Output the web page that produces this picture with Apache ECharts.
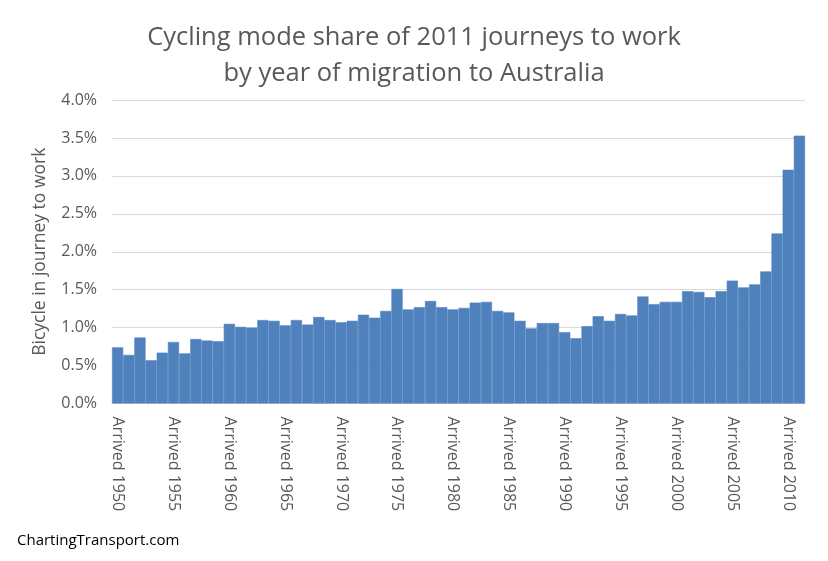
<!DOCTYPE html>
<html>
<head>
<meta charset="utf-8">
<script src="https://cdn.jsdelivr.net/npm/echarts@6/dist/echarts.min.js"></script>
<style>
html,body{margin:0;padding:0;background:#fff;}
#chart{width:828px;height:561px;}
</style>
</head>
<body>
<div id="chart"></div>
<script>
const years = [1950,1951,1952,1953,1954,1955,1956,1957,1958,1959,
  1960,1961,1962,1963,1964,1965,1966,1967,1968,1969,
  1970,1971,1972,1973,1974,1975,1976,1977,1978,1979,
  1980,1981,1982,1983,1984,1985,1986,1987,1988,1989,
  1990,1991,1992,1993,1994,1995,1996,1997,1998,1999,
  2000,2001,2002,2003,2004,2005,2006,2007,2008,2009,
  2010,2011];
const categories = years.map(y => 'Arrived ' + y);
const bicycleShare = [0.74,0.64,0.87,0.57,0.67,0.81,0.66,0.85,0.83,0.82,
  1.05,1.01,1.00,1.10,1.09,1.03,1.10,1.04,1.14,1.10,
  1.07,1.09,1.17,1.13,1.22,1.51,1.24,1.27,1.35,1.27,
  1.24,1.26,1.33,1.34,1.22,1.20,1.09,0.99,1.06,1.06,
  0.94,0.86,1.02,1.15,1.09,1.18,1.16,1.41,1.31,1.34,
  1.34,1.48,1.47,1.40,1.48,1.62,1.53,1.57,1.74,2.24,
  3.08,3.53];
const titleLines = ['Cycling mode share of 2011 journeys to work', 'by year of migration to Australia'];
const yAxisName = 'Bicycle in journey to work';
const footer = 'ChartingTransport.com';

const chart = echarts.init(document.getElementById('chart'), null, {renderer:'canvas'});
const font = 'Open Sans';
chart.setOption({
  animation: false,
  backgroundColor: '#fff',
  title: {
    text: titleLines.join('\n'),
    left: 'center',
    top: 15,
    textStyle: {fontFamily: font, fontSize: 25.5, fontWeight: 'normal', color: '#595959', lineHeight: 36}
  },
  graphic: [{
    type: 'text', left: 17, top: 533,
    style: {text: footer, fontFamily: font, fontSize: 15, fill: '#000'}
  }],
  grid: {left: 112, right: 23, top: 100, bottom: 157.5, containLabel: false},
  xAxis: {
    type: 'category',
    data: categories,
    axisLine: {lineStyle: {color: '#D9D9D9', width: 1}},
    axisTick: {show: false},
    axisLabel: {
      interval: 4, rotate: -90, color: '#595959', fontFamily: font, fontSize: 16, margin: 13
    },
    splitLine: {show: false}
  },
  yAxis: {
    type: 'value', min: 0, max: 4, interval: 0.5,
    name: yAxisName, nameLocation: 'middle', nameGap: 63, nameRotate: 90,
    nameTextStyle: {fontFamily: font, fontSize: 17.5, color: '#595959'},
    axisLine: {show: false}, axisTick: {show: false},
    axisLabel: {formatter: v => v.toFixed(1) + '%', color: '#595959', fontFamily: font, fontSize: 16, margin: 15},
    splitLine: {lineStyle: {color: '#D9D9D9', width: 1}}
  },
  series: [{
    type: 'bar',
    data: bicycleShare,
    barCategoryGap: '0%',
    itemStyle: {color: '#4F81BD', borderColor: '#4F81BD', borderWidth: 0.6}
  }]
});
</script>
</body>
</html>
